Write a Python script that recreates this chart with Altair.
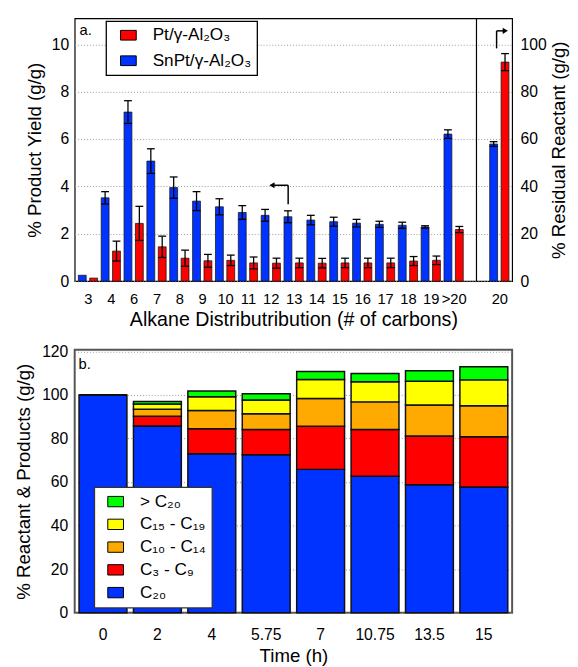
import altair as alt
import pandas as pd

# ---------------- Panel a data ----------------
x_labels = ["3", "4", "6", "7", "8", "9", "10", "11", "12", "13", "14", "15",
            "16", "17", "18", "19", ">20", "", "20"]
product_cats = x_labels[:17]
snpt_yield = [0.25, 3.52, 7.14, 5.07, 3.95, 3.38, 3.14, 2.90, 2.78, 2.72, 2.58,
              2.51, 2.45, 2.40, 2.36, 2.29, 6.21]
snpt_err = [0.0, 0.26, 0.48, 0.52, 0.45, 0.40, 0.34, 0.29, 0.25, 0.25, 0.20,
            0.19, 0.16, 0.13, 0.13, 0.05, 0.18]
pt_yield = [0.13, 1.27, 2.44, 1.45, 0.97, 0.86, 0.88, 0.77, 0.76, 0.77, 0.76,
            0.77, 0.77, 0.77, 0.85, 0.88, 2.18]
pt_err = [0.0, 0.42, 0.72, 0.45, 0.34, 0.27, 0.22, 0.25, 0.21, 0.20, 0.20,
          0.20, 0.20, 0.20, 0.19, 0.18, 0.13]
resid_cat = "20"
snpt_resid, snpt_resid_err = 57.9, 1.0
pt_resid, pt_resid_err = 92.5, 3.6

PT = "Pt/γ-Al₂O₃"
SN = "SnPt/γ-Al₂O₃"

# arrows (data coordinates: x in category-position units)
arrow_left = {"x": [8.76], "x2": [8.05], "ylo": [3.25], "yhi": [4.05]}
arrow_right = {"x": [17.88], "x2": [18.26], "ylo": [98.3], "yhi": [105.7]}

# ---------------- Panel b data ----------------
times = ["0", "2", "4", "5.75", "7", "10.75", "13.5", "15"]
c20 = [100.0, 85.7, 73.0, 72.5, 65.8, 62.7, 58.7, 57.7]
c3_9 = [0.0, 4.5, 11.5, 11.6, 19.8, 21.4, 22.4, 23.1]
c10_14 = [0.0, 3.2, 8.3, 7.2, 12.7, 12.7, 14.3, 14.2]
c15_19 = [0.0, 2.4, 6.3, 6.4, 8.8, 9.2, 10.9, 11.9]
gt20 = [0.0, 1.2, 2.7, 2.8, 3.6, 3.8, 4.8, 6.0]
groups_b = ["> C₂₀", "C₁₅ - C₁₉", "C₁₀ - C₁₄", "C₃ - C₉", "C₂₀"]
colors_b = ["#00ff00", "#ffff00", "#ffaa00", "#ff0000", "#0033ff"]

# ---------------- build tables ----------------
def make_df(cats, vals, errs, series):
    rows = []
    for c, v, e in zip(cats, vals, errs):
        rows.append(dict(pos=x_labels.index(c), series=series, val=v, err=e,
                         lo=v - e, hi=v + e))
    return pd.DataFrame(rows)

sn_main = make_df(product_cats, snpt_yield, snpt_err, SN)
pt_main = make_df(product_cats, pt_yield, pt_err, PT)
sn_res = make_df([resid_cat], [snpt_resid], [snpt_resid_err], SN)
pt_res = make_df([resid_cat], [pt_resid], [pt_resid_err], PT)

W, H = 446, 268
labels_js = "[" + ",".join("'" + l + "'" for l in x_labels) + "]"
xscale = alt.Scale(domain=[-0.58, 18.56], nice=False, zero=False, padding=0)
xaxis = alt.Axis(values=[i for i, l in enumerate(x_labels) if l != ""],
                 labelExpr=labels_js + "[datum.value]", labelOverlap=False,
                 labelFlush=False, grid=False, ticks=False, tickSize=0,
                 labelFontSize=15, labelPadding=10.5, titleFontSize=20,
                 titlePadding=3.5, title="Alkane Distributribution (# of carbons)")
X = alt.X("pos:Q", scale=xscale, axis=xaxis)

yscale_l = alt.Scale(domain=[0, 11.1], nice=False, padding=0)
yaxis_l = alt.Axis(values=[0, 2, 4, 6, 8, 10], grid=True, gridDash=[1, 2],
                   gridColor="#999999", ticks=False, tickSize=0, labelFontSize=16,
                   labelPadding=6, titleFontSize=19, titlePadding=7,
                   title="% Product Yield (g/g)")
yscale_r = alt.Scale(domain=[0, 111], nice=False, padding=0)
yaxis_r = alt.Axis(orient="right", values=[0, 20, 40, 60, 80, 100], grid=False,
                   ticks=False, tickSize=0, labelFontSize=16, labelPadding=8,
                   titleFontSize=19, titlePadding=4, titleAngle=270,
                   titleBaseline="top", title="% Residual Reactant (g/g)")

legend_a = alt.Legend(orient="none", legendX=32, legendY=3, title=None,
                      fillColor="white", strokeColor="black",
                      padding=5.5, symbolOffset=8.5, labelOffset=16,
                      symbolType="M-1,-0.62H1V0.62H-1Z", symbolSize=256,
                      symbolStrokeColor="black", symbolStrokeWidth=1,
                      labelFontSize=17.5, rowPadding=7, labelLimit=0)
COLOR = alt.Color("series:N", scale=alt.Scale(domain=[PT, SN],
                  range=["#ff0000", "#0033ff"]), legend=legend_a)

def series_layers(df, yscale, yaxis, off):
    layers = [alt.Chart(df).mark_bar(width=8, xOffset=off, stroke="#1a1a1a",
                                     strokeWidth=0.8).encode(
        x=X, y=alt.Y("val:Q", scale=yscale, axis=yaxis), color=COLOR)]
    edf = df[df.err > 0]
    layers.append(alt.Chart(edf).mark_rule(xOffset=off, color="black",
                                           strokeWidth=1.3).encode(
        x=X, y=alt.Y("lo:Q", scale=yscale, axis=yaxis), y2="hi:Q"))
    for f in ["hi", "lo"]:
        layers.append(alt.Chart(edf).mark_tick(orient="horizontal", size=8,
                                               thickness=1.3, xOffset=off,
                                               color="black", opacity=1).encode(
            x=X, y=alt.Y(f + ":Q", scale=yscale, axis=yaxis)))
    return layers

OFF = 5.8

def arrows(d, yscale, yaxis, shape):
    df = pd.DataFrame(d)
    vert = alt.Chart(df).mark_rule(color="black", strokeWidth=1.5).encode(
        x=alt.X("x:Q", scale=xscale, axis=xaxis),
        y=alt.Y("ylo:Q", scale=yscale, axis=yaxis), y2="yhi:Q")
    horiz = alt.Chart(df).mark_rule(color="black", strokeWidth=1.5).encode(
        x=alt.X("x:Q", scale=xscale, axis=xaxis), x2="x2:Q",
        y=alt.Y("yhi:Q", scale=yscale, axis=yaxis))
    head = alt.Chart(df).mark_point(shape=shape, filled=True, size=38,
                                    color="black", opacity=1).encode(
        x=alt.X("x2:Q", scale=xscale, axis=xaxis),
        y=alt.Y("yhi:Q", scale=yscale, axis=yaxis))
    return [vert, horiz, head]

divider = alt.Chart(pd.DataFrame({"pos": [x_labels.index("")]})).mark_rule(
    color="black", strokeWidth=1.2).encode(x=X, y=alt.value(0), y2=alt.value(H))
label_a = alt.Chart(pd.DataFrame({"t": ["a."]})).mark_text(
    align="left", baseline="top", fontSize=15, color="black").encode(
    text="t:N", x=alt.value(5), y=alt.value(5))

left_group = alt.layer(
    divider,
    *series_layers(sn_main, yscale_l, yaxis_l, -OFF),
    *series_layers(pt_main, yscale_l, yaxis_l, OFF),
    *arrows(arrow_left, yscale_l, yaxis_l, "triangle-left"),
    label_a,
)
right_group = alt.layer(
    *series_layers(sn_res, yscale_r, yaxis_r, -OFF),
    *series_layers(pt_res, yscale_r, yaxis_r, OFF),
    *arrows(arrow_right, yscale_r, yaxis_r, "triangle-right"),
)
panel_a = alt.layer(left_group, right_group).resolve_scale(y="independent").properties(
    width=W, height=H, view=alt.ViewBackground(stroke="black", strokeWidth=1.2))

# ---------------- Panel b ----------------
rows_b = []
series_b = [c20, c3_9, c10_14, c15_19, gt20]
names_stack = ["C₂₀", "C₃ - C₉", "C₁₀ - C₁₄", "C₁₅ - C₁₉", "> C₂₀"]
for k, (name, vals) in enumerate(zip(names_stack, series_b)):
    for t, v in zip(times, vals):
        rows_b.append(dict(time=t, group=name, value=v, order=k))
df_b = pd.DataFrame(rows_b)

legend_b = alt.Legend(orient="none", legendX=20, legendY=140, title=None,
                      fillColor="white", strokeColor="#333333",
                      padding=6, symbolOffset=7, labelOffset=16,
                      symbolType="M-1,-0.66H1V0.66H-1Z", symbolSize=256,
                      symbolStrokeColor="black", symbolStrokeWidth=1,
                      labelFontSize=17.5, rowPadding=4.2, labelLimit=0)

bars_b = alt.Chart(df_b).mark_bar(stroke="#111111", strokeWidth=1.5).encode(
    x=alt.X("time:N", sort=times,
            scale=alt.Scale(paddingInner=0.12, paddingOuter=0.08),
            axis=alt.Axis(labelAngle=0, ticks=False, tickSize=0, labelFontSize=16,
                          labelPadding=14, titleFontSize=19, titlePadding=5,
                          title="Time (h)")),
    y=alt.Y("value:Q", stack="zero",
            scale=alt.Scale(domain=[0, 120.7], nice=False, padding=0),
            axis=alt.Axis(values=[0, 20, 40, 60, 80, 100, 120], grid=True,
                          gridDash=[1, 2], gridColor="#999999", ticks=False,
                          tickSize=0, labelFontSize=16, labelPadding=7,
                          titleFontSize=19, titlePadding=8.5,
                          title="% Reactant & Products (g/g)")),
    color=alt.Color("group:N", scale=alt.Scale(domain=groups_b, range=colors_b),
                    legend=legend_b),
    order=alt.Order("order:Q"),
)
label_b = alt.Chart(pd.DataFrame({"t": ["b."]})).mark_text(
    align="left", baseline="top", fontSize=15, color="black").encode(
    text="t:N", x=alt.value(4), y=alt.value(8))

panel_b = alt.layer(bars_b, label_b).properties(
    width=W, height=H, view=alt.ViewBackground(stroke="#555555", strokeWidth=2))

chart = alt.vconcat(panel_a, panel_b, spacing=12).resolve_scale(
    color="independent").properties(
    padding={"top": 2, "left": 5, "right": 0, "bottom": 0}
).configure(font="Liberation Sans").configure_axis(
    labelColor="black", titleColor="black", titleFontWeight="normal",
    domain=False).configure_legend(labelColor="black", strokeWidth=1.3)

chart.save("out.html", embed_options={"renderer": "svg", "actions": False})
